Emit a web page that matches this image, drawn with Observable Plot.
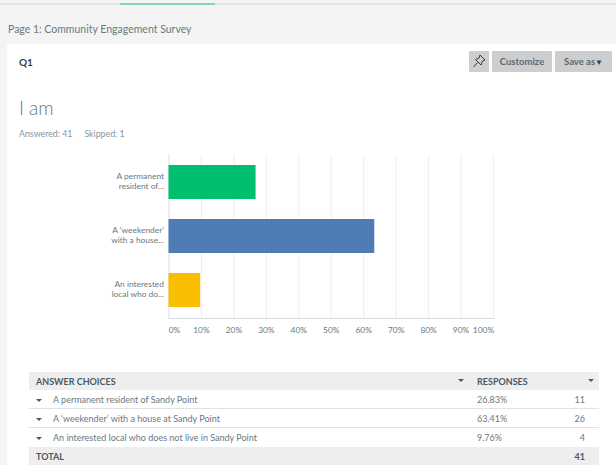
<!DOCTYPE html>
<html><head><meta charset="utf-8">
<script src="https://cdn.jsdelivr.net/npm/d3@7"></script>
<script src="https://cdn.jsdelivr.net/npm/@observablehq/plot@0.6"></script>
<style>
html,body{margin:0;padding:0;background:#fff;}
body{width:616px;height:465px;overflow:hidden;position:relative;font-family:Lato,Roboto,sans-serif;color:#6b787f;}
.a{position:absolute;white-space:nowrap;}
#top{left:0;top:0;width:616px;height:44px;background:#f4f4f4;}
#topline{left:0;top:3px;width:616px;height:2px;background:#e6e6e6;}
#tab{left:120px;top:3px;width:95px;height:2px;background:#7fd8b4;}
#left{left:0;top:44px;width:7px;height:421px;background:#f4f4f4;}
.btn{background:#ccced0;color:#5f686e;font-size:9.5px;font-weight:700;text-align:center;line-height:21px;height:21px;top:51px;border-radius:1px;}
#tbl{left:29px;top:372px;width:570px;font-size:9px;color:#6b787f;}
.row{position:absolute;left:0;width:570px;box-sizing:border-box;}
.row span{position:absolute;white-space:nowrap;}
.tri{width:0;height:0;border-left:3px solid transparent;border-right:3px solid transparent;border-top:3px solid #4c5860;position:absolute;}
#chart{left:0;top:150px;}
#chart svg{display:block;}
</style></head><body>
<div class="a" id="top"></div><div class="a" id="topline"></div><div class="a" id="tab"></div><div class="a" id="left"></div>
<div class="a" style="left:8px;top:23px;font-size:10.5px;color:#6b787f;">Page 1: Community Engagement Survey</div>
<div class="a" style="left:19px;top:56px;font-size:10px;font-weight:700;color:#333e48;">Q1</div>
<div class="a btn" style="left:469px;width:20px;">
<svg width="20" height="21" viewBox="0 0 20 21" style="display:block"><path d="M11 4 L16 9 L13.5 10 L12 14 L6.5 8.5 L10 7 Z M8.5 11.5 L4.5 16" fill="none" stroke="#333e48" stroke-width="1"/></svg></div>
<div class="a btn" style="left:492px;width:60px;">Customize</div>
<div class="a btn" style="left:555px;width:57px;">Save as<span style="font-size:8px;color:#333e48">▼</span></div>
<div class="a" style="left:19px;top:96px;font-size:19px;font-weight:300;color:#6b787f;">I am</div>
<div class="a" style="left:19px;top:128px;font-size:8.8px;color:#8a949a;">Answered: 41<span style="margin-left:12px">Skipped: 1</span></div>
<div class="a" id="chart"></div>
<div class="a" id="tbl"></div>
<script>
const shortLabels = ["A permanent\nresident of...", "A ‘weekender’\nwith a house...", "An interested\nlocal who do..."];
const choices = ["A permanent resident of Sandy Point", "A ‘weekender’ with a house at Sandy Point", "An interested local who does not live in Sandy Point"];
const percents = [26.83, 63.41, 9.76];
const counts = [11, 26, 4];
const colors = ["#00bf6f", "#507cb6", "#f9be00"];
const xTicks = [0,10,20,30,40,50,60,70,80,90,100];
const totalCount = 41;

const rows = shortLabels.map((label,i)=>({label,value:percents[i]}));
const axisStyle = {fontSize:8.4, fill:"#6b787f", fontFamily:"Lato,Roboto,sans-serif"};
const plot = Plot.plot({
  width:616, height:195,
  marginLeft:168.5, marginRight:123, marginTop:4.6, marginBottom:27,
  style:{background:"transparent", fontFamily:"Lato,Roboto,sans-serif", overflow:"visible"},
  x:{domain:[0,100], label:null},
  y:{domain:shortLabels, paddingInner:0.37, paddingOuter:0.185, label:null},
  color:{domain:shortLabels, range:colors},
  marks:[
    Plot.ruleX(xTicks.slice(1),{stroke:"#eceeef",strokeWidth:1,strokeOpacity:1}),
    Plot.frame({anchor:"left",stroke:"#d9dcdd",strokeOpacity:1}),
    Plot.frame({anchor:"bottom",stroke:"#d9dcdd",strokeOpacity:1}),
    Plot.barX(rows,{x:"value",y:"label",fill:"label"}),
    Plot.axisY({tickSize:0,tickPadding:5,dy:-1.5,label:null,lineHeight:1.12,textAnchor:"end",...axisStyle}),
    Plot.axisX({ticks:xTicks.slice(1,-1),tickSize:0,tickPadding:9,label:null,tickFormat:d=>d+"%",...axisStyle}),
    Plot.axisX({ticks:[0],tickSize:0,tickPadding:9,dx:5.5,label:null,tickFormat:d=>d+"%",...axisStyle}),
    Plot.axisX({ticks:[100],tickSize:0,tickPadding:9,dx:-10,label:null,tickFormat:d=>d+"%",...axisStyle})
  ]
});
document.getElementById("chart").appendChild(plot);

const tbl = document.getElementById("tbl");
function row(top,h,bg,border){const d=document.createElement("div");d.className="row";d.style.top=top+"px";d.style.height=h+"px";d.style.background=bg;if(border)d.style.borderBottom="1px solid "+border;d.style.lineHeight=(h+1)+"px";tbl.appendChild(d);return d;}
function span(r,left,text,extra){const s=document.createElement("span");if(left!==null)s.style.left=left+"px";s.textContent=text;if(extra)Object.assign(s.style,extra);r.appendChild(s);return s;}
function tri(r,left,top){const t=document.createElement("div");t.className="tri";t.style.left=left+"px";t.style.top=top+"px";r.appendChild(t);}
const head=row(0,18,"#eeeeee");
span(head,7,"ANSWER CHOICES",{fontWeight:700,color:"#4c5860"});
span(head,448,"RESPONSES",{fontWeight:700,color:"#4c5860"});
tri(head,429,7);tri(head,559,7);
choices.forEach((c,i)=>{
  const r=row(18+i*19,19,"#fff",i<2?"#dfe1e2":null);
  tri(r,7,9);
  span(r,24,c);
  span(r,448,percents[i].toFixed(2)+"%");
  span(r,null,String(counts[i]),{right:"14px"});
});
const tot=row(75,18,"#eeeeee");
span(tot,7,"TOTAL",{fontWeight:700,color:"#4c5860"});
span(tot,null,String(totalCount),{right:"14px",fontWeight:700,color:"#4c5860"});
</script>
</body></html>
